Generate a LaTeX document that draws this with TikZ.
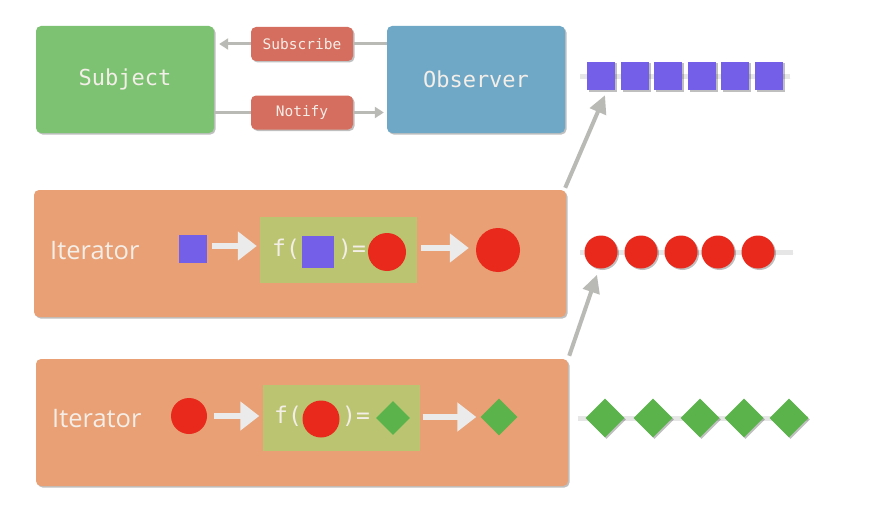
\documentclass[tikz,border=0pt]{standalone}
\usepackage{fontspec}
\setmainfont{Open Sans}
\setmonofont{DejaVu Sans Mono}
\usetikzlibrary{shapes.geometric,shadows,arrows.meta,calc}
\definecolor{subjgreen}{HTML}{7CC272}
\definecolor{obsblue}{HTML}{6FA8C6}
\definecolor{labred}{HTML}{D56E5E}
\definecolor{iterorange}{HTML}{E9A074}
\definecolor{funcgreen}{HTML}{BBC470}
\definecolor{itpurple}{HTML}{735FE8}
\definecolor{itred}{HTML}{E8291C}
\definecolor{itgreen}{HTML}{5BB44B}
\definecolor{arrgray}{HTML}{B9BAB5}
\definecolor{arrwhite}{HTML}{EBEBEB}
\definecolor{streamgray}{HTML}{E6E6E6}
\definecolor{lighttext}{HTML}{F4EEE8}
\tikzset{
  softshadow/.style={drop shadow={shadow xshift=1.5pt,shadow yshift=-1.5pt,opacity=0.25,fill=black}},
  bigbox/.style={rectangle,rounded corners=5pt,minimum width=178pt,minimum height=107pt,
    text=lighttext,font=\ttfamily\fontsize{22}{26}\selectfont,softshadow},
  lblbox/.style={rectangle,rounded corners=5pt,fill=labred,minimum width=102pt,minimum height=34pt,
    text=lighttext,font=\ttfamily\fontsize{14.5}{17}\selectfont,softshadow},
  iterbox/.style={rectangle,rounded corners=5pt,fill=iterorange,minimum width=532pt,minimum height=127pt,softshadow},
  itertext/.style={text=lighttext,font=\fontsize{25.5}{30}\selectfont,anchor=west,inner sep=0pt},
  funcbox/.style={rectangle,fill=funcgreen,minimum width=157pt,minimum height=66pt,inner sep=0pt},
  functext/.style={text=lighttext,font=\ttfamily\fontsize{23}{28}\selectfont,inner sep=0pt},
  sqr/.style={rectangle,fill=itpurple,inner sep=0pt,minimum width=#1,minimum height=#1},
  circ/.style={circle,fill=itred,inner sep=0pt,minimum size=#1},
  diam/.style={diamond,aspect=1,fill=itgreen,inner sep=0pt,minimum size=#1},
  sqrs/.style={sqr=28pt,softshadow},
  circs/.style={circ=33pt,softshadow},
  diams/.style={diam=39pt,softshadow},
  smallarrow/.style={draw=arrgray,line width=3pt,-{Triangle[length=9pt,width=11pt]}},
  bigarrow/.style={draw=arrgray,line width=4pt,-{Triangle[length=18pt,width=17pt]}},
  whitearrow/.style={draw=arrwhite,line width=6pt,-{Triangle[length=19pt,width=28pt]}},
  streamline/.style={draw=streamgray,line width=5pt,drop shadow={shadow xshift=1pt,shadow yshift=-1.5pt,opacity=0.25}},
}
\begin{document}
\begin{tikzpicture}[x=1pt,y=-1pt]
\useasboundingbox[fill=white] (0,0) rectangle (870,527);

% top: Subject / Observer
\node[bigbox,fill=subjgreen] (subj) at (125,79.5) {Subject};
\node[bigbox,fill=obsblue] (obs) at (476,79.5) {Observer};
\node[lblbox] (subs) at (302,44) {Subscribe};
\node[lblbox] (noti) at (302,112.5) {Notify};
\draw[draw=arrgray,line width=3pt] (obs.west |- subs) -- (subs.east);
\draw[smallarrow] (subs.west) -- ($(subj.east |- subs)+(5,0)$);
\draw[draw=arrgray,line width=3pt] (subj.east |- noti) -- (noti.west);
\draw[smallarrow] (noti.east) -- ($(obs.west |- noti)+(-3,0)$);

% streams
\coordinate (s1a) at (580,77);
\coordinate (s1b) at (790,77);
\draw[streamline] (s1a) -- (s1b);
\foreach \i/\x in {1/601,2/635,3/668,4/702,5/735,6/769}{
  \node[sqrs] (sq\i) at (\x,76) {};
}
\coordinate (s2a) at (580,252);
\coordinate (s2b) at (793,252);
\draw[streamline] (s2a) -- (s2b);
\foreach \i/\x in {1/601,2/641,3/681,4/718,5/758}{
  \node[circs] (c\i) at (\x,252) {};
}
\coordinate (s3a) at (578,418);
\coordinate (s3b) at (808,418);
\draw[streamline] (s3a) -- (s3b);
\foreach \i/\x in {1/605,2/653,3/700,4/744,5/789}{
  \node[diams] (d\i) at (\x,418) {};
}

% iterator 1
\node[iterbox] (it1) at (300,253.5) {};
\node[itertext] (it1t) at (50,251) {Iterator};
\node[sqr=28pt] (in1) at (193,249) {};
\node[funcbox] (f1) at (338.5,250) {};
\node[functext] (f1a) at (286,249) {f(};
\node[sqr=32pt] (f1s) at (318,252) {};
\node[functext] (f1b) at (352,249) {)=};
\node[circ=38pt] (f1c) at (387,252) {};
\node[circ=44pt] (out1) at (498,250) {};
\draw[whitearrow] ($(in1.east)+(5,-3)$) -- ($(f1.west |- in1)+(-3,-3)$);
\draw[whitearrow] ($(f1.east)+(4,-2)$) -- ($(out1.west)+(-7,-2)$);

% iterator 2
\node[iterbox] (it2) at (302,422.5) {};
\node[itertext] (it2t) at (52,419) {Iterator};
\node[circ=36pt] (in2) at (189,416) {};
\node[funcbox] (f2) at (341,418) {};
\node[functext] (f2a) at (288,416) {f(};
\node[circ=37pt] (f2c) at (321,419) {};
\node[functext] (f2b) at (356,416) {)=};
\node[diam=34pt] (f2d) at (393,418) {};
\node[diam=37pt] (out2) at (499,417) {};
\draw[whitearrow] ($(in2.east)+(7,0)$) -- ($(f2.west |- in2)+(-3,0)$);
\draw[whitearrow] ($(f2.east |- out2)+(3,0)$) -- ($(out2.west)+(-4,0)$);

% diagonal arrows
\draw[bigarrow] ($(it1.north east)+(-1,-2)$) -- ($(sq1.south)+(4,5)$);
\draw[bigarrow] ($(it2.north east)+(1,-3)$) -- ($(c1.south)+(-4,6)$);
\end{tikzpicture}
\end{document}
